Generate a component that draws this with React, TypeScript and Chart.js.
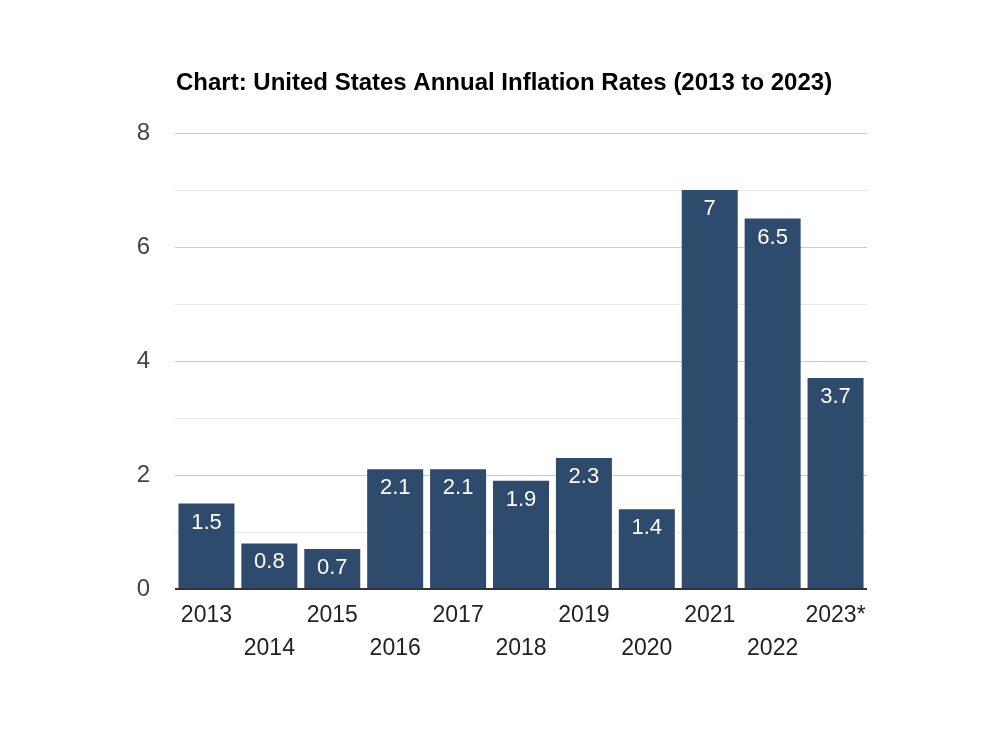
import React, { useEffect, useRef } from "react";
import { Chart, registerables } from "chart.js";

Chart.register(...registerables);

const TITLE = "Chart: United States Annual Inflation Rates (2013 to 2023)";
const YEARS = ["2013", "2014", "2015", "2016", "2017", "2018", "2019", "2020", "2021", "2022", "2023*"];
const RATES = [1.5, 0.8, 0.7, 2.1, 2.1, 1.9, 2.3, 1.4, 7, 6.5, 3.7];
const Y_TICKS = [0, 2, 4, 6, 8];

const FONT = "'Liberation Sans', Arial, sans-serif";

export default function App() {
  const ref = useRef<HTMLCanvasElement | null>(null);

  useEffect(() => {
    document.body.style.margin = "0";
    const canvas = ref.current!;
    const labels = YEARS.map((y, i) => (i % 2 === 0 ? [y] : ["", y]));

    const overlay = {
      id: "overlay",
      afterDatasetsDraw(chart: any) {
        const ctx = chart.ctx;
        const area = chart.chartArea;
        ctx.save();
        // title
        ctx.fillStyle = "#000";
        ctx.font = `bold 24px ${FONT}`;
        ctx.textAlign = "left";
        ctx.textBaseline = "middle";
        ctx.fillText(TITLE, area.left + 1, 83);
        // value labels
        const meta = chart.getDatasetMeta(0);
        ctx.fillStyle = "#fff";
        ctx.font = `22px ${FONT}`;
        ctx.textAlign = "center";
        meta.data.forEach((bar: any, i: number) => {
          ctx.fillText(String(RATES[i]), bar.x, bar.y + 19);
        });
        // baseline
        const y0 = chart.scales.y.getPixelForValue(0);
        ctx.strokeStyle = "#333";
        ctx.lineWidth = 2;
        ctx.beginPath();
        ctx.moveTo(area.left, y0);
        ctx.lineTo(area.right, y0);
        ctx.stroke();
        ctx.restore();
      },
    };

    const chart = new Chart(canvas, {
      type: "bar",
      data: {
        labels,
        datasets: [
          {
            data: RATES,
            backgroundColor: "#2e4a6d",
            barPercentage: 0.89,
            categoryPercentage: 1,
          },
        ],
      },
      options: {
        animation: false,
        responsive: false,
        maintainAspectRatio: false,
        layout: { padding: { top: 133, right: 139, left: 0, bottom: 0 } },
        plugins: {
          legend: { display: false },
          tooltip: { enabled: false },
          title: { display: false },
        },
        scales: {
          x: {
            grid: { display: false, drawTicks: false },
            border: { display: false },
            ticks: {
              color: "#222",
              font: { family: FONT, size: 23, lineHeight: 1.45 },
              padding: 10,
              maxRotation: 0,
              autoSkip: false,
            },
            afterFit(scale: any) {
              scale.height = 143;
            },
          },
          y: {
            min: 0,
            max: 8,
            grid: {
              drawTicks: false,
              color: (c: any) => (c.tick && c.tick.value % 2 === 0 ? "#cccccc" : "#e8e8e8"),
              lineWidth: 1,
            },
            border: { display: false },
            ticks: {
              stepSize: 1,
              color: "#444",
              font: { family: FONT, size: 24 },
              padding: 25,
              callback: (v: any) => (Y_TICKS.includes(Number(v)) ? String(v) : ""),
            },
            afterFit(scale: any) {
              scale.width = 175;
            },
          },
        },
      },
      plugins: [overlay],
    });

    return () => chart.destroy();
  }, []);

  return (
    <div style={{ width: 1006, height: 732 }}>
      <canvas ref={ref} width={1006} height={732} style={{ width: 1006, height: 732, display: "block" }} />
    </div>
  );
}
